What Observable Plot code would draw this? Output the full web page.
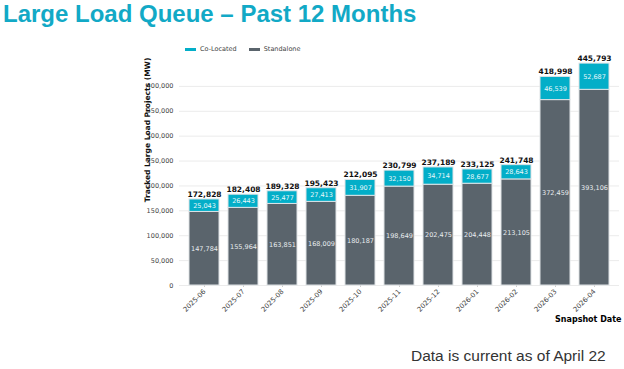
<!DOCTYPE html>
<html>
<head>
<meta charset="utf-8">
<script src="https://cdn.jsdelivr.net/npm/d3@7"></script>
<script src="https://cdn.jsdelivr.net/npm/@observablehq/plot@0.6"></script>
<style>
  html, body { margin: 0; padding: 0; background: #fff; width: 624px; height: 369px; overflow: hidden; position: relative; }
  #title { position: absolute; left: 3px; top: 0px; font-family: "Liberation Sans", Arial, sans-serif; font-weight: bold; font-size: 24px; line-height: 28px; color: #12A9C6; white-space: nowrap; }
  #footer { position: absolute; left: 411px; top: 347px; font-family: "Liberation Sans", Arial, sans-serif; font-size: 15.5px; color: #333; white-space: nowrap; }
  #legend { position: absolute; left: 185px; top: 45px; font-family: "DejaVu Sans", sans-serif; font-size: 6.5px; color: #444; display: flex; align-items: center; white-space: nowrap; }
  #legend .sw { display: inline-block; width: 11px; height: 3px; margin-right: 4px; }
  #legend .item { display: flex; align-items: center; margin-right: 12px; }
  #ylabel { position: absolute; left: 147px; top: 130px; transform: translate(-50%, -50%) rotate(-90deg); font-family: "DejaVu Sans", sans-serif; font-weight: bold; font-size: 7.5px; color: #111; white-space: nowrap; }
  #chart { position: absolute; left: 0; top: 0; }
  #chart svg { overflow: visible; }
  #chart [aria-label="x-axis label"] text { font-weight: bold; font-size: 8px; fill: #000; }
</style>
</head>
<body>
<div id="chart"></div>
<div id="title">Large Load Queue – Past 12 Months</div>
<div id="legend"></div>
<div id="ylabel">Tracked Large Load Projects (MW)</div>
<div id="footer">Data is current as of April 22</div>
<script>
const dates = ["2025-06","2025-07","2025-08","2025-09","2025-10","2025-11","2025-12","2026-01","2026-02","2026-03","2026-04"];
const standalone = [147784,155964,163851,168009,180187,198649,202475,204448,213105,372459,393106];
const coLocated = [25043,26443,25477,27413,31907,32150,34714,28677,28643,46539,52687];
const totals = [172828,182408,189328,195423,212095,230799,237189,233125,241748,418998,445793];
const yTicks = [0,50000,100000,150000,200000,250000,300000,350000,400000];
const seriesNames = ["Co-Located","Standalone"];
const seriesColors = ["#03AEC8","#5A646C"];

const fmt = d3.format(",");
const rows = dates.map((d, i) => ({
  date: d,
  standalone: standalone[i],
  coLocated: coLocated[i],
  total: totals[i],
  top: standalone[i] + coLocated[i]
}));

// legend
const legend = document.getElementById("legend");
seriesNames.forEach((n, i) => {
  const it = document.createElement("span");
  it.className = "item";
  it.innerHTML = `<span class="sw" style="background:${seriesColors[i]}"></span>${n}`;
  legend.appendChild(it);
});

const font = "DejaVu Sans, sans-serif";
const chart = Plot.plot({
  width: 624,
  height: 369,
  marginLeft: 179,
  marginRight: 5,
  marginTop: 61,
  marginBottom: 84,
  style: { fontFamily: font, background: "transparent" },
  x: { type: "band", domain: dates, padding: 0.23 },
  y: { domain: [0, 450000] },
  marks: [
    Plot.gridY(yTicks, { stroke: "#ebebeb", strokeOpacity: 1, strokeWidth: 1 }),
    Plot.axisY({ ticks: yTicks, tickFormat: fmt, tickSize: 0, tickPadding: 6, fontSize: 6.5, color: "#444", label: null }),
    Plot.axisX({ tickRotate: -45, fontSize: 6.8, tickSize: 2, tickPadding: 3, color: "#444", stroke: "#ccc",
      label: "Snapshot Date", labelAnchor: "right", labelArrow: "none", labelOffset: 36 }),
    Plot.barY(rows, { x: "date", y1: 0, y2: "standalone", fill: seriesColors[1], stroke: "#dfe3e6", strokeWidth: 1 }),
    Plot.barY(rows, { x: "date", y1: "standalone", y2: "top", fill: seriesColors[0], stroke: "#dfe3e6", strokeWidth: 1 }),
    Plot.text(rows, { x: "date", y: d => d.standalone / 2, text: d => fmt(d.standalone), fill: "#e8ecef", fontSize: 6.5 }),
    Plot.text(rows, { x: "date", y: d => d.standalone + d.coLocated / 2, text: d => fmt(d.coLocated), fill: "#e8f8fb", fontSize: 6.5 }),
    Plot.text(rows, { x: "date", y: "top", text: d => fmt(d.total), dy: -5, fill: "#111", fontWeight: "bold", fontSize: 7.5 })
  ]
});
document.getElementById("chart").appendChild(chart);
</script>
</body>
</html>
